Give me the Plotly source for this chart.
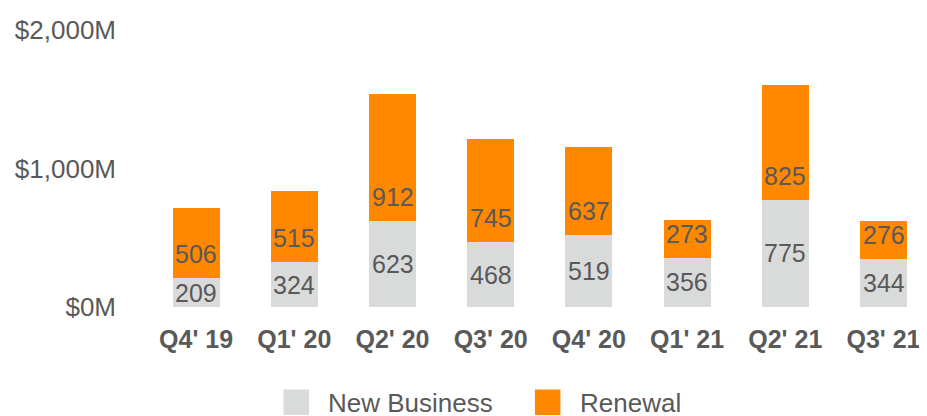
import plotly.graph_objects as go

quarters = ["Q4' 19", "Q1' 20", "Q2' 20", "Q3' 20", "Q4' 20", "Q1' 21", "Q2' 21", "Q3' 21"]
new_business = [209, 324, 623, 468, 519, 356, 775, 344]
renewal = [506, 515, 912, 745, 637, 273, 825, 276]
y_ticks = [0, 1000, 2000]
y_tick_labels = ["$0M", "$1,000M", "$2,000M"]

GRAY = "#d9dbdb"
ORANGE = "#ff8800"
TEXT = "#595959"
FONT = "Arial, Liberation Sans, sans-serif"

# page body has an 8px margin; figure sized to fill the rest of the 927x416 window
OFF = 8
W, H = 927 - OFF, 416 - OFF
ML, MT = 142 - OFF, 25 - OFF
plot_w, plot_h = 778, 282
MR = W - ML - plot_w
MB = H - MT - plot_h

fig = go.Figure()
fig.add_bar(x=quarters, y=new_business, name="New Business", marker_color=GRAY, marker_line_width=0)
fig.add_bar(x=quarters, y=renewal, name="Renewal", marker_color=ORANGE, marker_line_width=0)

annotations = []
for q, nb, rn in zip(quarters, new_business, renewal):
    annotations.append(dict(x=q, y=nb / 2, text=str(nb), showarrow=False, xref="x", yref="y",
                            yanchor="middle", font=dict(size=25, color=TEXT, family=FONT)))
    annotations.append(dict(x=q, y=nb, text=str(rn), showarrow=False, xref="x", yref="y",
                            yanchor="middle", yshift=24, font=dict(size=25, color=TEXT, family=FONT)))

def px_x(p):
    return (p - OFF - ML) / plot_w

def px_y(p):
    return (MT + plot_h - (p - OFF)) / plot_h

legend_items = [("New Business", GRAY, 281, 324), ("Renewal", ORANGE, 537, 581)]
shapes = []
for label, color, bx, tx in legend_items:
    shapes.append(dict(type="rect", xref="paper", yref="paper", x0=px_x(bx), x1=px_x(bx + 26),
                       y0=px_y(391), y1=px_y(417), fillcolor=color, line_width=0))
    annotations.append(dict(x=px_x(tx), y=px_y(405), xref="paper", yref="paper", text=label,
                            showarrow=False, xanchor="left", yanchor="middle",
                            font=dict(size=26, color=TEXT, family=FONT)))

fig.update_layout(
    width=W, height=H,
    margin=dict(l=ML, r=MR, t=MT, b=MB),
    barmode="stack", bargap=0.52,
    plot_bgcolor="white", paper_bgcolor="white",
    showlegend=False,
    font=dict(family=FONT, color=TEXT),
    xaxis=dict(range=[-0.5, -0.5 + plot_w / 100], showgrid=False, showline=False, zeroline=False,
               ticks="", tickfont=dict(size=25, color=TEXT, family=FONT, weight="bold"),
               ticklabelstandoff=15),
    yaxis=dict(range=[0, 2000], tickvals=y_ticks, ticktext=y_tick_labels, showgrid=False,
               showline=False, zeroline=False, ticks="", tickfont=dict(size=26, color=TEXT, family=FONT),
               ticklabelstandoff=30),
    annotations=annotations, shapes=shapes,
)

fig.write_html("out.html")
